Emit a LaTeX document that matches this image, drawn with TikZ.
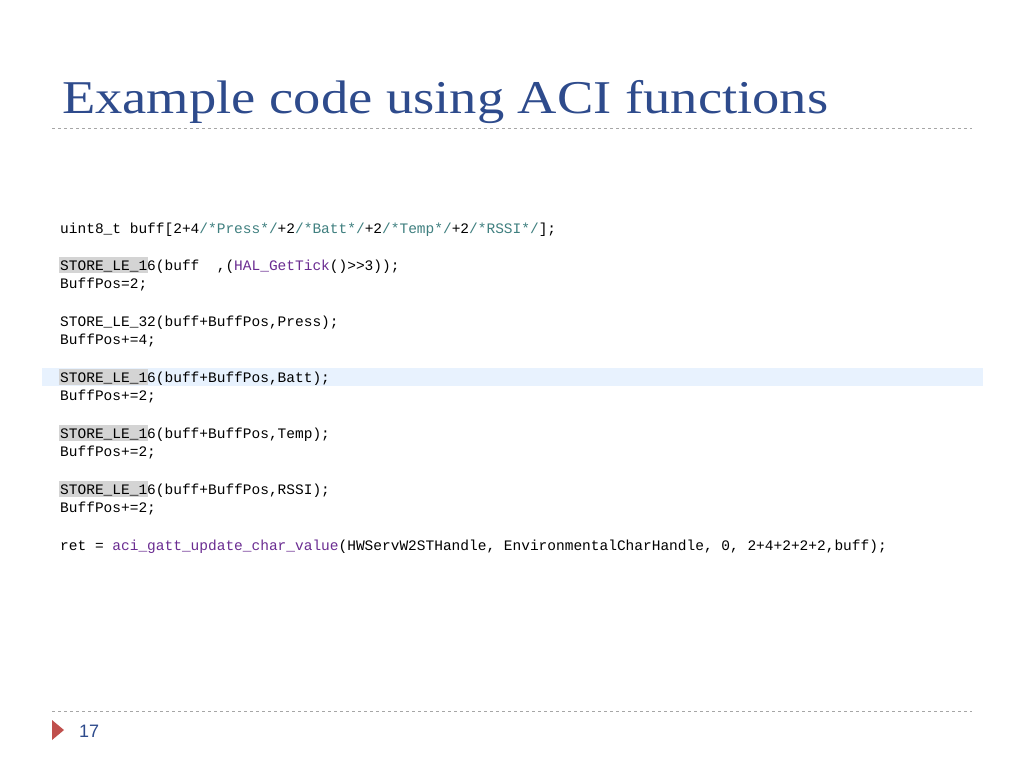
\documentclass[tikz,border=0pt]{standalone}
\usepackage{fontspec}
\setmainfont{Liberation Serif}
\setsansfont{Liberation Sans}
\setmonofont{Liberation Mono}
\definecolor{titleblue}{HTML}{2E4B8C}
\definecolor{rulegray}{HTML}{A6A6A6}
\definecolor{cmtgreen}{HTML}{3F7F7F}
\definecolor{fnpurple}{HTML}{6A2C91}
\definecolor{rowblue}{HTML}{E8F2FE}
\definecolor{macgray}{HTML}{D4D4D4}
\definecolor{markred}{HTML}{C0504D}
\newcommand{\cmt}[1]{\textcolor{cmtgreen}{#1}}
\newcommand{\fn}[1]{\textcolor{fnpurple}{#1}}
\begin{document}
\begin{tikzpicture}[x=1pt,y=-1pt,
  codeline/.style={anchor=base west,inner sep=0pt,font=\fontsize{14.5}{18}\ttfamily},
  sepline/.style={rulegray,dashed,line width=0.6pt}]
\useasboundingbox (0,0) rectangle (1024,768);
% title and rules
\node[anchor=base west,inner sep=0pt,text=titleblue,font=\fontsize{47}{52}\selectfont] (title) at (62,113) {\scalebox{1.16}[1]{Example code using ACI functions}};
\draw[sepline] (52,128) -- (972,128);
\draw[sepline] (52,711) -- (972,711);
% highlights
\fill[rowblue] (42,368) rectangle (983,386);
\foreach \y in {257,369,425,481} \fill[macgray] (59,\y) rectangle (148,\y+16);
% code
\node[codeline] (l1) at (60,233) {uint8\_t buff[2+4\cmt{/*Press*/}+2\cmt{/*Batt*/}+2\cmt{/*Temp*/}+2\cmt{/*RSSI*/}];};
\node[codeline] (l2) at (60,270) {STORE\_LE\_16(buff~~,(\fn{HAL\_GetTick}()>{}>3));};
\node[codeline] (l3) at (60,288) {BuffPos=2;};
\node[codeline] (l4) at (60,326) {STORE\_LE\_32(buff+BuffPos,Press);};
\node[codeline] (l5) at (60,344) {BuffPos+=4;};
\node[codeline] (l6) at (60,382) {STORE\_LE\_16(buff+BuffPos,Batt);};
\node[codeline] (l7) at (60,400) {BuffPos+=2;};
\node[codeline] (l8) at (60,438) {STORE\_LE\_16(buff+BuffPos,Temp);};
\node[codeline] (l9) at (60,456) {BuffPos+=2;};
\node[codeline] (l10) at (60,494) {STORE\_LE\_16(buff+BuffPos,RSSI);};
\node[codeline] (l11) at (60,512) {BuffPos+=2;};
\node[codeline] (l12) at (60,550) {ret = \fn{aci\_gatt\_update\_char\_value}(HWServW2STHandle, EnvironmentalCharHandle, 0, 2+4+2+2+2,buff);};
% footer
\fill[markred] (52,720) -- (64,730) -- (52,740) -- cycle;
\node[anchor=base west,inner sep=0pt,text=titleblue,font=\sffamily\fontsize{18}{20}\selectfont] (page) at (79,737) {17};
\end{tikzpicture}
\end{document}
